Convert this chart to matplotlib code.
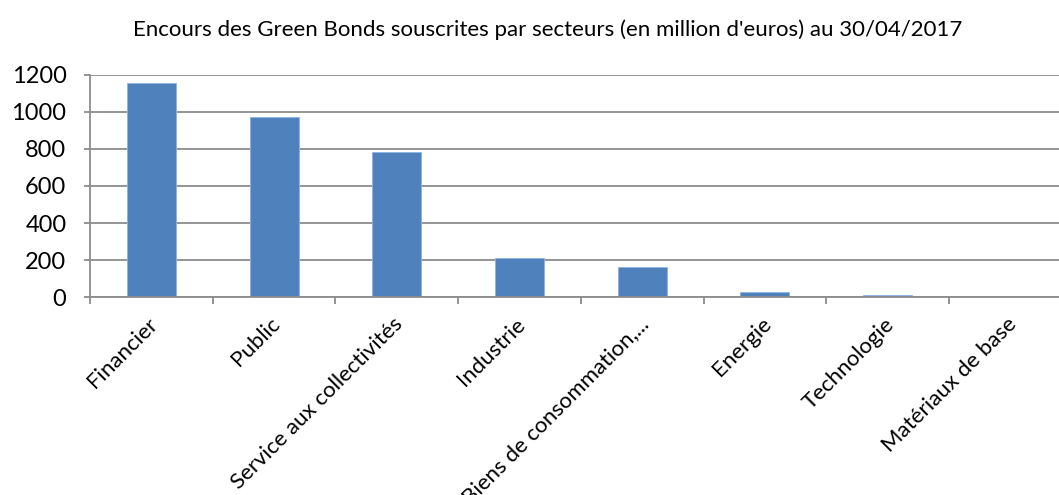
import matplotlib
matplotlib.use("Agg")
import matplotlib.pyplot as plt
import matplotlib.transforms as mtransforms
import numpy as np

categories = ["Financier", "Public", "Service aux collectivités", "Industrie",
              "Biens de consommation,...", "Energie", "Technologie", "Matériaux de base"]
values = [1155, 972, 782, 210, 166, 30, 11, 1]
yticks = [0, 200, 400, 600, 800, 1000, 1200]
title = "Encours des Green Bonds souscrites par secteurs (en million d'euros) au 30/04/2017"

plt.rcParams['font.family'] = ['Lato', 'DejaVu Sans']

fig = plt.figure(figsize=(10.59, 4.95), dpi=100)
ax = fig.add_axes([0.085, 0.3994, 0.927, 0.4497])

x = np.arange(len(categories))
ax.bar(x, values, width=0.4, color="#4F81BD", edgecolor="#8EB4E3", linewidth=0.6, zorder=3)

ax.set_xlim(-0.5, len(categories) - 0.5)
ax.set_ylim(0, 1200)
ax.set_yticks(yticks)
ax.set_yticklabels([str(v) for v in yticks], fontsize=17)
ax.yaxis.grid(True, color="#8C8C8C", linewidth=1.3, zorder=0)

ax.set_xticks(x)
ax.set_xticklabels(categories, rotation=45, ha='right', rotation_mode='anchor', fontsize=16)
ax.tick_params(axis='x', which='major', length=0, pad=12)
offset = mtransforms.ScaledTranslation(-0.04, 0, fig.dpi_scale_trans)
for lbl in ax.get_xticklabels():
    lbl.set_transform(lbl.get_transform() + offset)
ax.set_xticks(np.arange(-0.5, len(categories) - 0.4, 1.0), minor=True)
ax.tick_params(axis='x', which='minor', length=5, color="#8C8C8C", width=1.3)
ax.tick_params(axis='y', length=4, color="#8C8C8C", width=1.3, pad=13)

for s in ['top', 'right']:
    ax.spines[s].set_visible(False)
ax.spines['left'].set_color("#8C8C8C")
ax.spines['left'].set_linewidth(1.3)
ax.spines['bottom'].set_color("#8C8C8C")
ax.spines['bottom'].set_linewidth(1.3)
ax.spines['bottom'].set_zorder(4)

fig.text(0.517, 0.939, title, ha='center', va='center', fontsize=16)

fig.savefig("out.png", dpi=100)
